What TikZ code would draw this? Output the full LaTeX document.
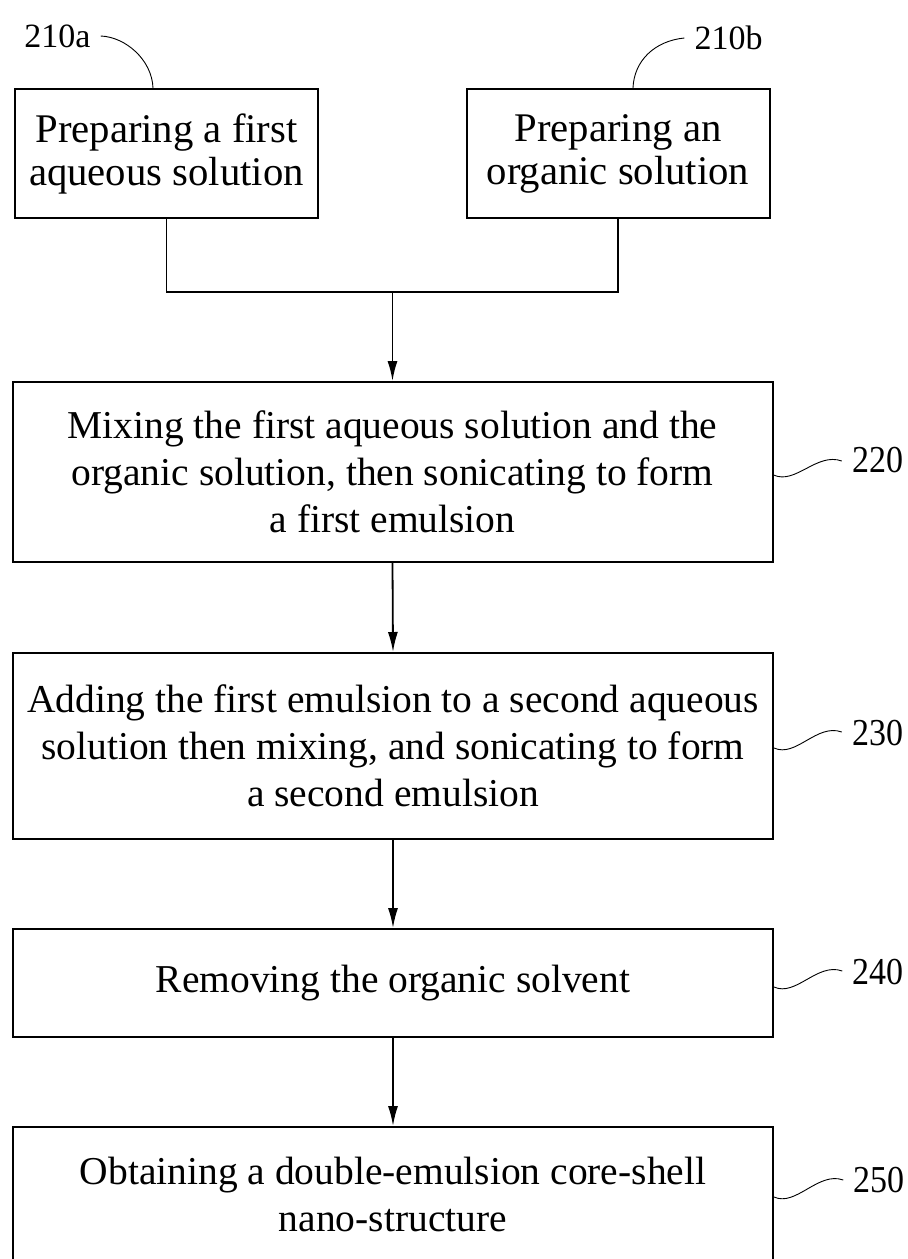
\documentclass[tikz,border=0pt]{standalone}
\usepackage{fontspec}
\setmainfont{Liberation Serif}
\usepackage{graphicx}
\usetikzlibrary{arrows.meta}
\begin{document}
\begin{tikzpicture}[x=1pt,y=-1pt,
  box/.style={draw,line width=2pt,inner sep=0pt,align=center},
  topbox/.style={box,font=\fontsize{40.7}{43}\selectfont,minimum width=303pt,minimum height=129pt},
  stepbox/.style={box,font=\fontsize{39.5}{47}\selectfont,minimum width=760pt},
  lbl/.style={inner sep=0pt,font=\fontsize{34}{40}\selectfont},
  flow/.style={line width=1.8pt,-{Latex[length=20pt,width=10pt]}},
  link/.style={line width=1.8pt},
  lead/.style={line width=0.9pt}]
\useasboundingbox (0,0) rectangle (908,1259);

% boxes
\node[topbox] (a) at (166.5,153.5) {Preparing a first\\aqueous solution};
\node[topbox] (b) at (618,153.5) {Preparing an\\organic solution};
\node[stepbox,minimum height=180pt] (s220) at (392.5,472)
  {Mixing the first aqueous solution and the\\organic solution, then sonicating to form\\a first emulsion};
\node[stepbox,minimum height=186pt] (s230) at (393,746)
  {Adding the first emulsion to a second aqueous\\solution then mixing, and sonicating to form\\a second emulsion};
\node[stepbox,minimum height=108pt] (s240) at (393,983)
  {Removing the organic solvent};
\node[stepbox,minimum height=135pt] (s250) at (393,1194.5)
  {Obtaining a double-emulsion core-shell\\nano-structure};

% labels
\node[lbl] (l210a) at (57.5,36) {210a};
\node[lbl] (l210b) at (728.5,38) {210b};
\node[lbl] (l220) at (877.5,460) {\scalebox{1}[1.12]{220}};
\node[lbl] (l230) at (877.5,733) {\scalebox{1}[1.12]{230}};
\node[lbl] (l240) at (878,972) {\scalebox{1}[1.12]{240}};
\node[lbl] (l250) at (879,1180) {\scalebox{1}[1.12]{250}};

% connectors
\coordinate (j) at (392.5,292);
\draw[link] (a.south) |- (j) -| (b.south);
\draw[flow] (j) -- (s220.north);
\draw[flow] (s220.south) -- (s230.north);
\draw[flow] (s230.south) -- (s240.north);
\draw[flow] (s240.south) -- (s250.north);

% leaders
\draw[lead] ([xshift=10pt]l210a.east) .. controls +(25,1) and +(-1,-28) .. ([xshift=-13.5pt]a.north);
\draw[lead] ([xshift=15pt]b.north) .. controls +(1,-27) and +(-30,3) .. ([xshift=-10pt]l210b.west);
\draw[lead] ([yshift=-3pt]s220.east) .. controls +(22,10) and +(-25,-9) .. ([xshift=-10pt,yshift=-1pt]l220.west);
\draw[lead] ([yshift=-2pt]s230.east) .. controls +(22,10) and +(-25,-9) .. ([xshift=-10pt,yshift=1pt]l230.west);
\draw[lead] ([yshift=-4pt]s240.east) .. controls +(22,10) and +(-25,-9) .. ([xshift=-10pt,yshift=1pt]l240.west);
\draw[lead] ([yshift=-2.5pt]s250.east) .. controls +(22,10) and +(-25,-9) .. ([xshift=-10pt,yshift=0pt]l250.west);
\end{tikzpicture}
\end{document}
